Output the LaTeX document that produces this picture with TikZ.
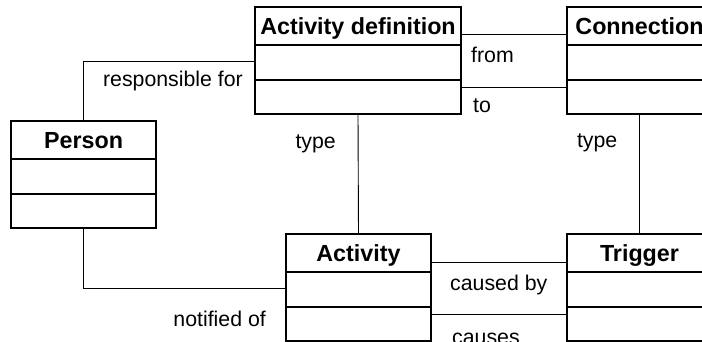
\documentclass[tikz,border=0pt]{standalone}
\usepackage{fontspec}
\setmainfont{Liberation Sans}
\usetikzlibrary{positioning}

\begin{document}
\begin{tikzpicture}[x = 1pt, y = 1pt]

\tikzstyle{head} = [rectangle, draw, line width = 1.6pt, minimum width = 145pt, minimum height = 38pt, inner sep = 0pt, outer sep = 0pt, text depth = 0pt, font = \fontsize{23.3pt}{26pt}\selectfont\bfseries]

\tikzstyle{part} = [rectangle, draw, line width = 1.6pt, minimum width = 145pt, minimum height = 35pt, inner sep = 0pt, outer sep = 0pt]

\tikzstyle{lbl} = [inner sep = 0pt, font = \fontsize{21.3pt}{24pt}\selectfont]

\tikzstyle{link} = [line width = 0.9pt]

\useasboundingbox (0,0) rectangle (702,342);
\clip (0,0) rectangle (702,342);

% activity definition
\node [head, minimum width = 206pt, anchor = north west] (actdef) at (255,335) {Activity definition};
\node [part, minimum width = 206pt, below = 0pt of actdef] (actdef_a) {};
\node [part, minimum width = 206pt, minimum height = 34pt, below = 0pt of actdef_a] (actdef_b) {};

% connection
\node [head, anchor = north west] (conn) at (567,335) {Connection};
\node [part, below = 0pt of conn] (conn_a) {};
\node [part, minimum height = 34pt, below = 0pt of conn_a] (conn_b) {};

% person
\node [head, anchor = north west] (person) at (11,221) {Person};
\node [part, below = 0pt of person] (person_a) {};
\node [part, minimum height = 34pt, below = 0pt of person_a] (person_b) {};

% activity
\node [head, anchor = north west] (act) at (286,108) {Activity};
\node [part, below = 0pt of act] (act_a) {};
\node [part, minimum height = 34pt, below = 0pt of act_a] (act_b) {};

% trigger
\node [head, anchor = north west] (trig) at (567,108) {Trigger};
\node [part, below = 0pt of trig] (trig_a) {};
\node [part, minimum height = 34pt, below = 0pt of trig_a] (trig_b) {};

% links
\draw [link] (person.north) |- ([yshift = -54pt]actdef.north west);
\draw [link] ([yshift = -27pt]actdef.north east) -- ([yshift = -27pt]conn.north west);
\draw [link] ([yshift = -80pt]actdef.north east) -- ([yshift = -80pt]conn.north west);
\draw [link] (actdef_b.south) -- (act.north);
\draw [link] (conn_b.south) -- (trig.north);
\draw [link] (person_b.south) |- ([yshift = -54pt]act.north west);
\draw [link] ([yshift = -28pt]act.north east) -- ([yshift = -28pt]trig.north west);
\draw [link] ([yshift = -80pt]act.north east) -- ([yshift = -80pt]trig.north west);

% labels
\node [lbl, anchor = base east] (l_resp) at ([xshift = -12pt, yshift = -80pt]actdef.north west) {responsible for};
\node [lbl, anchor = base west] (l_from) at ([xshift = 10pt, yshift = -56pt]actdef.north east) {from};
\node [lbl, anchor = base west] (l_to) at ([xshift = 12pt, yshift = -106pt]actdef.north east) {to};
\node [lbl, anchor = base east] (l_type1) at ([xshift = -22pt, yshift = -35pt]actdef_b.south) {type};
\node [lbl, anchor = base east] (l_type2) at ([xshift = -22pt, yshift = -34pt]conn_b.south) {type};
\node [lbl, anchor = base east] (l_notif) at ([xshift = -20pt, yshift = -93pt]act.north west) {notified of};
\node [lbl, anchor = base west] (l_cby) at ([xshift = 19pt, yshift = -57pt]act.north east) {caused by};
\node [lbl, anchor = base west] (l_cs) at ([xshift = 21pt, yshift = -111pt]act.north east) {causes};

\end{tikzpicture}
\end{document}
